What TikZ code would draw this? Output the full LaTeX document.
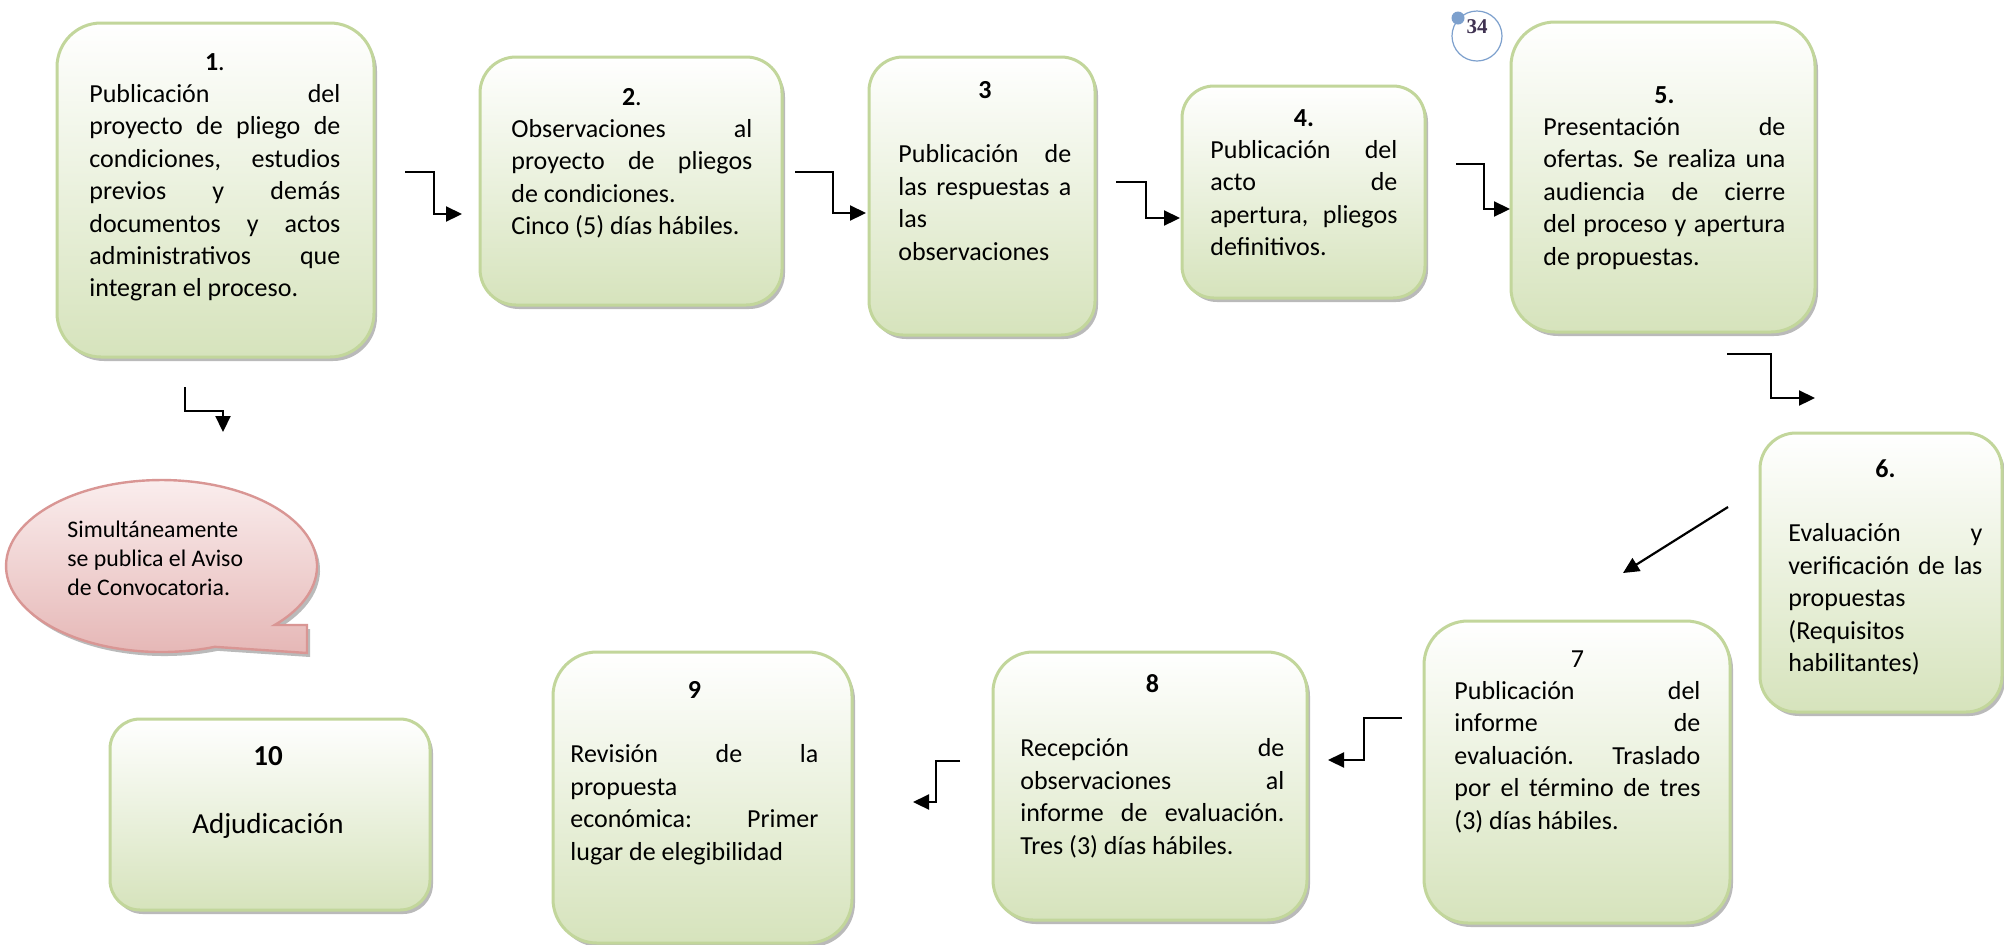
\documentclass[tikz,border=0pt]{standalone}
\usepackage{fontspec}
\setmainfont{Carlito}
\newfontfamily\pgnumfont{Liberation Serif}
\usetikzlibrary{arrows.meta,shadows}
\definecolor{gfill}{RGB}{214,227,188}
\definecolor{gline}{RGB}{194,214,155}
\definecolor{pfill}{RGB}{229,182,181}
\definecolor{ptop}{RGB}{251,240,240}
\definecolor{pline}{RGB}{217,150,148}
\definecolor{pgblue}{RGB}{125,160,205}
\definecolor{pgtext}{RGB}{63,49,81}
\newcommand\J[1]{\makebox[\hsize][s]{\frenchspacing\spaceskip=\fontdimen2\font plus 1fil\relax\xspaceskip=\spaceskip #1}}
\newcommand\LL[1]{\makebox[\hsize][l]{\frenchspacing\spaceskip=\fontdimen2\font\relax\xspaceskip=\spaceskip #1}}
\newcommand\C[1]{\makebox[\hsize][c]{#1}}
\begin{document}
\begin{tikzpicture}[x=0.5pt,y=-0.5pt,
  box/.style={draw=gline, line width=1.5pt, top color=white, bottom color=gfill, inner sep=0pt,
    drop shadow={shadow xshift=1.5pt, shadow yshift=-2pt, fill=black!45, opacity=0.6}},
  bubble/.style={draw=pline, line width=1.2pt, top color=ptop, bottom color=pfill,
    drop shadow={shadow xshift=1.5pt, shadow yshift=-2pt, fill=black!45, opacity=0.6}},
  txt/.style={anchor=base west, inner sep=0pt, align=left, font=\fontsize{13}{16.2}\selectfont},
  conn/.style={line width=1.1pt, -{Triangle[length=8pt,width=7.5pt]}},
]
\fill[white] (0,0) rectangle (2004,944);
\useasboundingbox (0,0) rectangle (2004,944);

% boxes
\node[box, minimum width=158.5pt, minimum height=167pt, rounded corners=22pt] (b1) at (215.5,190) {};
\node[box, minimum width=151pt, minimum height=124pt, rounded corners=18pt] (b2) at (631,181) {};
\node[box, minimum width=113pt, minimum height=139pt, rounded corners=17pt] (b3) at (982,196) {};
\node[box, minimum width=121.5pt, minimum height=106pt, rounded corners=16pt] (b4) at (1303.5,192) {};
\node[box, minimum width=152pt, minimum height=155pt, rounded corners=22pt] (b5) at (1663,177) {};
\node[box, minimum width=121pt, minimum height=139.5pt, rounded corners=18pt] (b6) at (1881,572.5) {};
\node[box, minimum width=153pt, minimum height=151pt, rounded corners=22pt] (b7) at (1577,772) {};
\node[box, minimum width=157pt, minimum height=134pt, rounded corners=20pt] (b8) at (1150,786) {};
\node[box, minimum width=149.5pt, minimum height=145.5pt, rounded corners=22pt] (b9) at (702.5,797.5) {};
\node[box, minimum width=160pt, minimum height=95.5pt, rounded corners=15pt] (b10) at (270,814.5) {};

% speech bubble
\path[bubble] (274.7,625) arc[start angle=43.3, end angle=-290, x radius=155.5, y radius=86]
  -- (307,653) -- (307,625) -- cycle;

% texts
\node[txt, text width=125.5pt] (t1) at (89,70) {\C{\textbf{1}.}\\
\J{Publicación del}\\ \J{proyecto de pliego de}\\ \J{condiciones, estudios}\\
\J{previos y demás}\\ \J{documentos y actos}\\ \J{administrativos que}\\ \LL{integran el proceso.}};
\node[txt, text width=120.5pt] (t2) at (511,105) {\C{\textbf{2}.}\\
\J{Observaciones al}\\ \J{proyecto de pliegos}\\ \LL{de condiciones.}\\ \LL{Cinco (5) días hábiles.}};
\node[txt, text width=86.5pt] (t3) at (898,98) {\C{\textbf{3}}\\ \mbox{}\\
\J{Publicación de}\\ \J{las respuestas a}\\ \LL{las}\\ \LL{observaciones}};
\node[txt, text width=93.5pt] (t4) at (1210,126) {\C{\textbf{4.}}\\
\J{Publicación del}\\ \J{acto de}\\ \J{apertura, pliegos}\\ \LL{definitivos.}};
\node[txt, text width=121pt] (t5) at (1543,103) {\C{\textbf{5.}}\\
\J{Presentación de}\\ \J{ofertas. Se realiza una}\\ \J{audiencia de cierre}\\ \J{del proceso y apertura}\\ \LL{de propuestas.}};
\node[txt, text width=97pt] (t6) at (1788,477) {\C{\textbf{6.}}\\ \mbox{}\\
\J{Evaluación y}\\ \J{verificación de las}\\ \LL{propuestas}\\ \LL{(Requisitos}\\ \LL{habilitantes)}};
\node[txt, text width=123pt] (t7) at (1454,667) {\C{7}\\
\J{Publicación del}\\ \J{informe de}\\ \J{evaluación. Traslado}\\ \J{por el término de tres}\\ \LL{(3) días hábiles.}};
\node[txt, text width=132pt] (t8) at (1020,692) {\C{\textbf{8}}\\ \mbox{}\\
\J{Recepción de}\\ \J{observaciones al}\\ \J{informe de evaluación.}\\ \LL{Tres (3) días hábiles.}};
\node[txt, text width=124pt] (t9) at (570,698) {\C{\textbf{9}}\\ \mbox{}\\
\J{Revisión de la}\\ \LL{propuesta}\\ \J{económica: Primer}\\ \LL{lugar de elegibilidad}};
\node[anchor=base, inner sep=0pt, text width=120pt, align=center, font=\fontsize{14.5}{17}\selectfont] (t10) at (268,765)
  {\textbf{10}\\[17pt] Adjudicación};
\node[txt, text width=100pt, font=\fontsize{11.9}{14.5}\selectfont] (tb) at (67,537)
  {\LL{Simultáneamente}\\ \LL{se publica el Aviso}\\ \LL{de Convocatoria.}};

% page number
\node[circle, draw=pgblue, line width=0.6pt, minimum size=25pt, inner sep=0pt] (pgc) at (1477,36) {};
\node[circle, fill=pgblue, minimum size=6.5pt, inner sep=0pt] (pgdot) at (1458,18) {};
\node[inner sep=0pt, text=pgtext, font=\pgnumfont\bfseries\fontsize{10.5}{12}\selectfont] (pgn) at (1477,27) {34};

% connectors
\coordinate (c12s) at (405,172); \coordinate (c12e) at (462,214);
\coordinate (c23s) at (795,172); \coordinate (c23e) at (866,213);
\coordinate (c34s) at (1116,182); \coordinate (c34e) at (1180,218);
\coordinate (c45s) at (1456,164); \coordinate (c45e) at (1510,209);
\coordinate (c56s) at (1727,354); \coordinate (c56e) at (1815,398);
\coordinate (c67s) at (1728,507); \coordinate (c67e) at (1623,573);
\coordinate (c1bs) at (185,387); \coordinate (c1be) at (223,432);
\coordinate (c78s) at (1402,718); \coordinate (c78e) at (1328,760);
\coordinate (c89s) at (960,761); \coordinate (c89e) at (913,802);
\draw[conn] (c12s) -- ++(29,0) |- (c12e);
\draw[conn] (c23s) -- ++(38,0) |- (c23e);
\draw[conn] (c34s) -- ++(30,0) |- (c34e);
\draw[conn] (c45s) -- ++(28,0) |- (c45e);
\draw[conn] (c56s) -- ++(44,0) |- (c56e);
\draw[conn] (c67s) -- (c67e);
\draw[conn] (c1bs) -- ++(0,24) -| (c1be);
\draw[conn] (c78s) -- ++(-38,0) |- (c78e);
\draw[conn] (c89s) -- ++(-24,0) |- (c89e);
\end{tikzpicture}
\end{document}
